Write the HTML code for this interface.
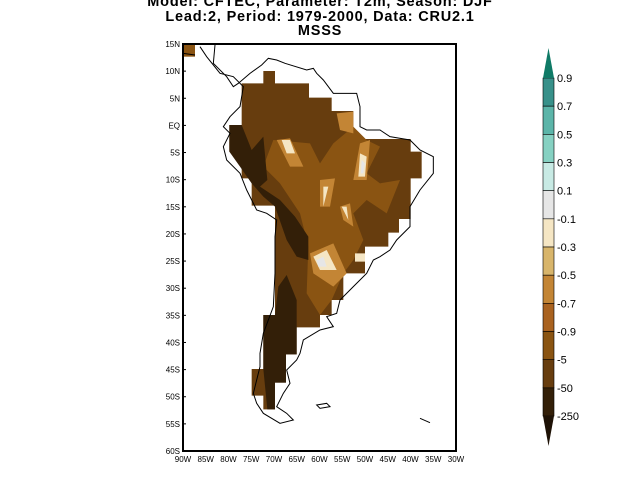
<!DOCTYPE html>
<html><head><meta charset="utf-8"><style>
body{margin:0;background:#fff;width:640px;height:494px;overflow:hidden}
svg{display:block;font-family:"Liberation Sans",sans-serif}
</style></head><body>
<svg id="s" width="640" height="494" viewBox="0 0 640 494">
<g font-size="14.5" font-weight="bold" text-anchor="middle" fill="#000" letter-spacing="0.8">
<text x="320" y="6">Model: CFTEC, Parameter: T2m, Season: DJF</text>
<text x="320" y="21">Lead:2, Period: 1979-2000, Data: CRU2.1</text>
<text x="320" y="35">MSSS</text>
</g>
<g transform="translate(180,40) scale(0.33333)">
<path fill="#673d0e" d="M185,130 L250,130 250,93 285,93 285,130 387,130 387,173 455,173 455,213 520,213 520,297 692,297 692,335 725,335 725,415 692,415 692,537 657,537 657,578 625,578 625,620 555,620 555,700 490,700 490,780 455,780 455,825 420,825 420,862 350,862 350,943 318,943 318,1028 285,1028 285,1108 250,1108 250,1067 215,1067 215,987 250,987 250,825 285,825 285,497 215,497 215,415 185,415 185,335 148,335 148,255 185,255Z"/>
<rect x="12" y="12" width="33" height="38" fill="#8a5412"/>
<path fill="#8a5412" d="M280,300 L390,310 420,370 460,310 520,260 560,300 600,320 560,400 600,430 660,420 620,520 560,480 520,520 550,600 520,660 490,700 455,780 420,825 380,760 385,620 360,520 300,430 250,380Z"/>
<path fill="#331f08" d="M148,255 L185,255 215,330 250,290 262,420 240,440 300,480 345,530 385,590 385,660 350,650 320,600 285,500 250,470 215,430 180,380 148,335Z"/>
<path fill="#331f08" d="M285,825 L250,825 250,987 262,1108 285,1108 285,1028 318,1028 318,943 350,943 350,780 320,705 295,740Z"/>
<path fill="#c38535" d="M290,300 L330,295 370,380 330,380Z M420,420 L465,415 450,500 420,500Z M480,500 L510,490 520,560 490,540Z M540,310 L570,300 560,420 520,420Z M390,640 L460,610 500,700 460,740 400,700Z M470,220 L520,215 520,280 480,270Z"/>
<path fill="#f5e6c4" d="M305,300 L330,300 345,340 320,340Z M540,340 L560,350 555,410 535,410Z M400,650 L440,630 470,690 420,690Z M485,500 L500,500 505,540Z M525,640 L555,640 555,665 525,665Z M430,440 L445,440 430,500Z"/>
<path fill="#e6e6e6" d="M410,660 L430,650 440,680 415,680Z M545,360 L555,370 550,400 542,400Z"/>
</g>
<g transform="translate(180,40) scale(0.33333)" fill="none" stroke="#000" stroke-width="3">
<path d="M105,15 L100,70 140,110 160,140 175,130 210,100 245,75 265,55 290,60 315,70 380,90 400,85 410,100 430,120 460,160 530,160 540,200 540,260 560,270 600,270 630,290 690,300 720,330 760,350 760,400 720,450 690,500 690,560 650,600 630,630 600,650 580,660 560,700 520,740 480,780 470,820 440,830 460,860 420,870 370,900 360,940 350,960 320,990 330,1030 310,1060 290,1100 320,1120 340,1140 300,1150 250,1120 230,1090 220,1060 230,1020 240,980 240,940 250,880 280,800 285,700 285,590 290,540 260,520 230,510 200,450 180,400 140,360 130,320 150,280 130,260 150,230 180,200 190,140 160,110 120,100 80,50 60,20 M10,40 L45,45 M410,1095 L440,1090 450,1100 420,1105Z M720,1135 L750,1148"/>
</g>
<rect x="183" y="44" width="273" height="407" fill="none" stroke="#000" stroke-width="2"/>
<g id="axes" font-size="8" fill="#000"></g>
<g id="cbar" font-size="11"></g>
<script>
const latLabels=["15N","10N","5N","EQ","5S","10S","15S","20S","25S","30S","35S","40S","45S","50S","55S","60S"];
const lonLabels=["90W","85W","80W","75W","70W","65W","60W","55W","50W","45W","40W","35W","30W"];
const cbLevels=["0.9","0.7","0.5","0.3","0.1","-0.1","-0.3","-0.5","-0.7","-0.9","-5","-50","-250"];
const cbColors=["#38918a","#5cb5a9","#86d1c2","#c8eae4","#e6e6e6","#f5e6c4","#d8b56b","#c38535","#a9621f","#8a5412","#673d0e","#331f08"];
const ns="http://www.w3.org/2000/svg";
const ax=document.getElementById('axes'),cb=document.getElementById('cbar');
const x0=183,x1=456,y0=44,y1=451;
const yLat=i=>y0+(y1-y0)*i/(latLabels.length-1);
const xLon=i=>x0+(x1-x0)*i/(lonLabels.length-1);
latLabels.forEach((l,i)=>{const t=document.createElementNS(ns,'text');


t.setAttribute('x',180);t.setAttribute('y',yLat(i)+3);t.setAttribute('text-anchor','end');t.textContent=l;ax.appendChild(t);
const k=document.createElementNS(ns,'line');


k.setAttribute('x1',x0);k.setAttribute('x2',x0+3);k.setAttribute('y1',yLat(i));k.setAttribute('y2',yLat(i));k.setAttribute('stroke','#000');ax.appendChild(k);});
lonLabels.forEach((l,i)=>{const t=document.createElementNS(ns,'text');


t.setAttribute('x',xLon(i));t.setAttribute('y',462);t.setAttribute('text-anchor','middle');t.textContent=l;ax.appendChild(t);});
const cx=543,cw=11,ct=78,step=28.17;
cbColors.forEach((c,i)=>{const r=document.createElementNS(ns,'rect');


r.setAttribute('x',cx);r.setAttribute('y',ct+i*step);r.setAttribute('width',cw);r.setAttribute('height',step);r.setAttribute('fill',c);r.setAttribute('stroke','#000');r.setAttribute('stroke-width','0.6');cb.appendChild(r);});
const bot=ct+cbColors.length*step;
const up=document.createElementNS(ns,'polygon');


up.setAttribute('points',`${cx},${ct} ${cx+cw},${ct} ${cx+cw/2},${ct-30}`);up.setAttribute('fill','#0f7a66');cb.appendChild(up);
const dn=document.createElementNS(ns,'polygon');


dn.setAttribute('points',`${cx},${bot} ${cx+cw},${bot} ${cx+cw/2},${bot+30}`);dn.setAttribute('fill','#1e1206');cb.appendChild(dn);
cbLevels.forEach((l,i)=>{const t=document.createElementNS(ns,'text');


t.setAttribute('x',557);t.setAttribute('y',ct+i*step+4);t.textContent=l;cb.appendChild(t);});
</script>
</svg>
</body></html>
